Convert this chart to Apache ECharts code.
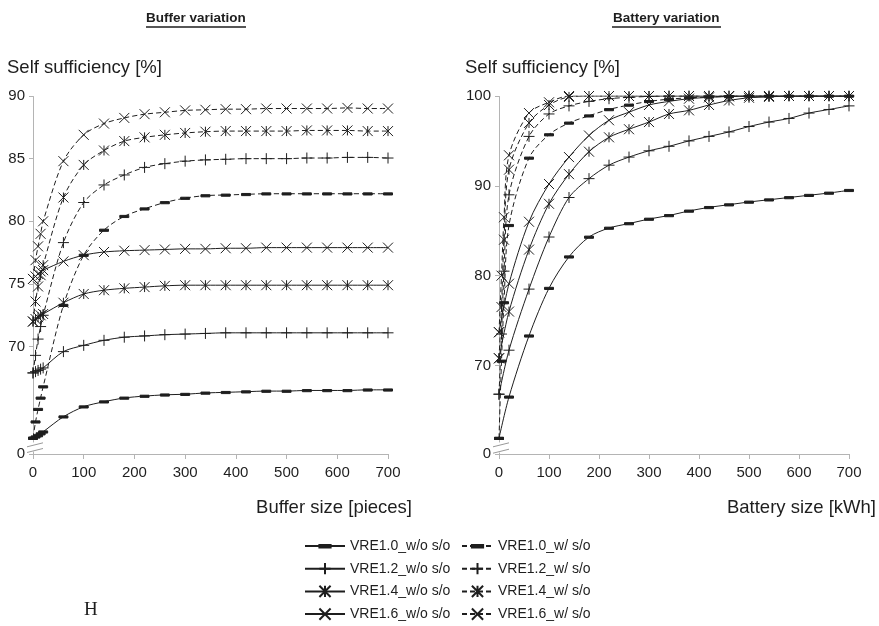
<!DOCTYPE html>
<html>
<head>
<meta charset="utf-8">
<title>Self sufficiency</title>
<script src="https://cdn.jsdelivr.net/npm/echarts@6.0.0/dist/echarts.min.js"></script>
<style>
    html, body { margin: 0; padding: 0; background: #fff; }
    #main { width: 879px; height: 626px; }
</style>
</head>
<body>
<div id="main"></div>
<script>
// buffer sizes [pieces]
var bufferX = [0, 5, 10, 15, 20, 60, 100, 140, 180, 220, 260, 300, 340, 380, 420, 460, 500, 540, 580, 620, 660, 700];
// battery sizes [kWh]
var batteryXwo = [0, 20, 60, 100, 140, 180, 220, 260, 300, 340, 380, 420, 460, 500, 540, 580, 620, 660, 700];
var batteryXw = [0, 5, 10, 20, 60, 100, 140, 180, 220, 260, 300, 340, 380, 420, 460, 500, 540, 580, 620, 660, 700];

// self sufficiency [%], buffer variation
var buf10wo = [62.7, 62.8, 62.9, 63.05, 63.2, 64.4, 65.2, 65.6, 65.9, 66.05, 66.15, 66.2, 66.3, 66.35, 66.4, 66.45, 66.45, 66.5, 66.5, 66.5, 66.55, 66.55];
var buf12wo = [67.9, 68.0, 68.1, 68.2, 68.3, 69.6, 70.1, 70.5, 70.75, 70.85, 70.95, 71.0, 71.05, 71.1, 71.1, 71.1, 71.1, 71.1, 71.1, 71.1, 71.1, 71.1];
var buf14wo = [72.0, 72.2, 72.35, 72.5, 72.6, 73.5, 74.2, 74.5, 74.65, 74.75, 74.85, 74.9, 74.9, 74.9, 74.9, 74.9, 74.9, 74.9, 74.9, 74.9, 74.9, 74.9];
var buf16wo = [75.4, 75.6, 75.8, 76.0, 76.1, 76.8, 77.3, 77.55, 77.65, 77.7, 77.75, 77.8, 77.8, 77.85, 77.85, 77.9, 77.9, 77.9, 77.9, 77.9, 77.9, 77.9];
var buf10w = [62.7, 64.0, 65.0, 65.9, 66.8, 73.3, 77.3, 79.3, 80.4, 81.0, 81.5, 81.85, 82.05, 82.1, 82.15, 82.2, 82.2, 82.2, 82.2, 82.2, 82.2, 82.2];
var buf12w = [67.9, 69.3, 70.6, 71.6, 72.5, 78.3, 81.5, 82.9, 83.7, 84.3, 84.6, 84.8, 84.9, 84.95, 85.0, 85.0, 85.0, 85.05, 85.05, 85.1, 85.1, 85.05];
var buf14w = [72.0, 73.6, 74.8, 75.7, 76.5, 81.9, 84.5, 85.65, 86.4, 86.7, 86.9, 87.05, 87.15, 87.2, 87.2, 87.2, 87.2, 87.25, 87.25, 87.25, 87.2, 87.2];
var buf16w = [75.4, 76.9, 78.0, 79.0, 80.0, 84.8, 86.9, 87.8, 88.25, 88.55, 88.7, 88.85, 88.9, 88.95, 88.95, 89.0, 89.0, 89.0, 89.0, 89.05, 89.0, 89.0];

// self sufficiency [%], battery variation
var bat10wo = [61.9, 66.5, 73.3, 78.6, 82.1, 84.3, 85.3, 85.8, 86.3, 86.7, 87.2, 87.6, 87.9, 88.2, 88.45, 88.7, 88.95, 89.2, 89.5];
var bat12wo = [66.8, 71.7, 78.5, 84.3, 88.7, 90.8, 92.3, 93.2, 93.9, 94.4, 95.0, 95.5, 96.0, 96.6, 97.1, 97.5, 98.1, 98.5, 98.9];
var bat14wo = [70.8, 76.0, 82.9, 88.0, 91.3, 93.8, 95.4, 96.3, 97.1, 98.0, 98.4, 99.0, 99.5, 99.8, 99.9, 100, 100, 100, 100];
var bat16wo = [73.7, 79.1, 86.0, 90.2, 93.2, 95.6, 97.3, 98.2, 99.0, 99.4, 99.7, 99.85, 99.95, 100, 100, 100, 100, 100, 100];
var bat10w = [61.9, 70.5, 77.0, 85.6, 93.1, 95.7, 97.0, 97.8, 98.5, 99.0, 99.4, 99.65, 99.8, 99.9, 99.95, 100, 100, 100, 100, 100, 100];
var bat12w = [66.8, 73.5, 80.5, 89.0, 95.5, 98.0, 98.9, 99.4, 99.7, 99.85, 99.95, 100, 100, 100, 100, 100, 100, 100, 100, 100, 100];
var bat14w = [70.8, 76.5, 84.0, 91.8, 97.0, 99.0, 99.9, 100, 100, 100, 100, 100, 100, 100, 100, 100, 100, 100, 100, 100, 100];
var bat16w = [73.7, 80.0, 86.5, 93.4, 98.1, 99.3, 100, 100, 100, 100, 100, 100, 100, 100, 100, 100, 100, 100, 100, 100, 100];

var namesWo = ['VRE1.0_w/o s/o', 'VRE1.2_w/o s/o', 'VRE1.4_w/o s/o', 'VRE1.6_w/o s/o'];
var namesW = ['VRE1.0_w/ s/o', 'VRE1.2_w/ s/o', 'VRE1.4_w/ s/o', 'VRE1.6_w/ s/o'];
var bufTicks = [0, 70, 75, 80, 85, 90];
var batTicks = [0, 70, 80, 90, 100];

var ink = '#1e1e1e';
var axisGray = '#b4b4b4';
var font = '"Liberation Sans", Arial, sans-serif';

// marker shapes: dash, plus, star, cross (the lone moveTo points keep the dash flat)
var marks = [
    {symbol: 'path://M0,0M0,4L10,4L10,6.4L0,6.4ZM10,10', size: 9},
    {symbol: 'path://M5,0L5,10M0,5L10,5', size: 11},
    {symbol: 'path://M0,0L10,10M10,0L0,10M5,0L5,10', size: 10},
    {symbol: 'path://M0,0L10,10M10,0L0,10', size: 10}
];

function line(name, grid, xs, ys, dashed, mark) {
    return {
        type: 'line',
        name: name,
        xAxisIndex: grid,
        yAxisIndex: grid,
        data: xs.map(function (x, i) { return [x, ys[i]]; }),
        smooth: 0.3,
        symbol: mark.symbol,
        symbolSize: mark.size,
        showSymbol: true,
        lineStyle: {color: ink, width: 1, type: dashed ? [5, 3] : 'solid'},
        itemStyle: {color: ink, borderColor: ink, borderWidth: 1},
        emphasis: {disabled: true},
        animation: false
    };
}

var series = [
    line(namesWo[0], 0, bufferX, buf10wo, false, marks[0]),
    line(namesWo[1], 0, bufferX, buf12wo, false, marks[1]),
    line(namesWo[2], 0, bufferX, buf14wo, false, marks[2]),
    line(namesWo[3], 0, bufferX, buf16wo, false, marks[3]),
    line(namesW[0], 0, bufferX, buf10w, true, marks[0]),
    line(namesW[1], 0, bufferX, buf12w, true, marks[1]),
    line(namesW[2], 0, bufferX, buf14w, true, marks[2]),
    line(namesW[3], 0, bufferX, buf16w, true, marks[3]),
    line(namesWo[0], 1, batteryXwo, bat10wo, false, marks[0]),
    line(namesWo[1], 1, batteryXwo, bat12wo, false, marks[1]),
    line(namesWo[2], 1, batteryXwo, bat14wo, false, marks[2]),
    line(namesWo[3], 1, batteryXwo, bat16wo, false, marks[3]),
    line(namesW[0], 1, batteryXw, bat10w, true, marks[0]),
    line(namesW[1], 1, batteryXw, bat12w, true, marks[1]),
    line(namesW[2], 1, batteryXw, bat14w, true, marks[2]),
    line(namesW[3], 1, batteryXw, bat16w, true, marks[3])
];

function xAxis(grid) {
    return {
        gridIndex: grid, type: 'value', min: 0, max: 700, interval: 100,
        axisLine: {lineStyle: {color: axisGray}},
        axisTick: {length: 5, lineStyle: {color: axisGray}},
        axisLabel: {color: ink, fontSize: 15, margin: 11, fontFamily: font},
        splitLine: {show: false}
    };
}

function yAxis(grid, max, ticks, brk) {
    return {
        gridIndex: grid, type: 'value', min: 0, max: max,
        breaks: [brk],
        breakArea: {
            show: true, expandOnClick: false, zigzagAmplitude: 0,
            itemStyle: {color: '#fff', borderWidth: 0, opacity: 1}
        },
        axisLine: {show: true, lineStyle: {color: axisGray}},
        axisTick: {show: true, length: 4, customValues: ticks, lineStyle: {color: axisGray}},
        axisLabel: {color: ink, fontSize: 15, margin: 8, fontFamily: font, customValues: ticks},
        splitLine: {show: false}
    };
}

var chart = echarts.init(document.getElementById('main'));
var bufBreak = {start: 0.2, end: 62.4, gap: '2.7%'};
var batBreak = {start: 0.2, end: 61.5, gap: '2.9%'};

var nameStyle = {fontSize: 18.5, fontWeight: 'normal', color: ink, fontFamily: font};
var headStyle = {fontSize: 13.5, fontWeight: 'bold', color: ink, fontFamily: font};

var option = {
    animation: false,
    textStyle: {fontFamily: font, color: ink},
    title: [
        {text: 'Buffer variation', left: 146, top: 11, padding: 0, textStyle: headStyle},
        {text: 'Battery variation', left: 613, top: 11, padding: 0, textStyle: headStyle},
        {text: 'Self sufficiency [%]', left: 7, top: 58, padding: 0, textStyle: nameStyle},
        {text: 'Self sufficiency [%]', left: 465, top: 58, padding: 0, textStyle: nameStyle},
        {text: 'Buffer size [pieces]', right: 467, top: 498, padding: 0, textStyle: nameStyle},
        {text: 'Battery size [kWh]', right: 3, top: 498, padding: 0, textStyle: nameStyle},
        {text: 'H', left: 84, top: 601, padding: 0,
            textStyle: {fontSize: 19, fontWeight: 'normal', color: ink, fontFamily: '"Liberation Serif", "DejaVu Serif", serif'}}
    ],
    legend: [
        {orient: 'vertical', left: 304, top: 539, padding: 0, height: 87, itemWidth: 40, itemHeight: 14, itemGap: 8.7,
            selectedMode: false, data: namesWo, textStyle: {fontSize: 14, color: ink, fontFamily: font}},
        {orient: 'vertical', left: 461, top: 539, padding: 0, height: 87, itemWidth: 31, itemHeight: 14, itemGap: 8.7,
            selectedMode: false, data: namesW, textStyle: {fontSize: 14, color: ink, fontFamily: font}}
    ],
    grid: [
        {left: 33, top: 96, width: 355, height: 358},
        {left: 499, top: 96, width: 350, height: 358}
    ],
    xAxis: [xAxis(0), xAxis(1)],
    yAxis: [yAxis(0, 90, bufTicks, bufBreak), yAxis(1, 100, batTicks, batBreak)],
    series: series
};
chart.setOption(option);

// underlines and axis break marks
function breakMarks(idx, brk) {
    var x = chart.convertToPixel({xAxisIndex: idx}, 0);
    var yLo = chart.convertToPixel({yAxisIndex: idx}, brk.start);
    var yHi = chart.convertToPixel({yAxisIndex: idx}, brk.end);
    var st = {stroke: '#999', lineWidth: 1};
    return [
        {type: 'line', shape: {x1: x - 6, y1: yHi + 5, x2: x + 10, y2: yHi + 1}, style: st, z: 100},
        {type: 'line', shape: {x1: x - 6, y1: yLo + 1, x2: x + 10, y2: yLo - 3}, style: st, z: 100}
    ];
}
chart.setOption({
    graphic: [
        {type: 'line', shape: {x1: 146, y1: 27, x2: 246, y2: 27}, style: {stroke: ink, lineWidth: 1.5}},
        {type: 'line', shape: {x1: 612, y1: 27, x2: 721, y2: 27}, style: {stroke: ink, lineWidth: 1.5}}
    ].concat(breakMarks(0, bufBreak), breakMarks(1, batBreak))
});
</script>
</body>
</html>
